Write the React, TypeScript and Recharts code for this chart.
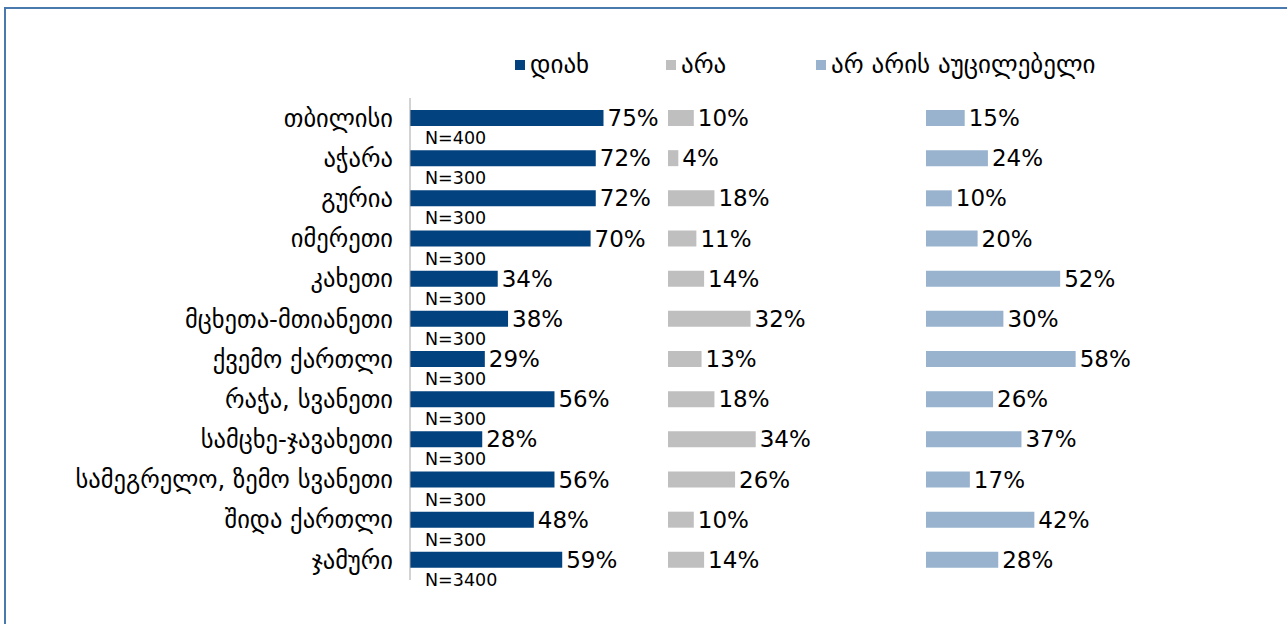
import React from 'react';
import { BarChart, Bar, XAxis, YAxis, LabelList } from 'recharts';

const regions = [
    'თბილისი',
    'აჭარა',
    'გურია',
    'იმერეთი',
    'კახეთი',
    'მცხეთა-მთიანეთი',
    'ქვემო ქართლი',
    'რაჭა, სვანეთი',
    'სამცხე-ჯავახეთი',
    'სამეგრელო, ზემო სვანეთი',
    'შიდა ქართლი',
    'ჯამური'
];
const yesValues = [75, 72, 72, 70, 34, 38, 29, 56, 28, 56, 48, 59];
const noValues = [10, 4, 18, 11, 14, 32, 13, 18, 34, 26, 10, 14];
const notNeededValues = [15, 24, 10, 20, 52, 30, 58, 26, 37, 17, 42, 28];
const sampleSizes = [400, 300, 300, 300, 300, 300, 300, 300, 300, 300, 300, 3400];

const data = regions.map((region, i) => ({
    region,
    yes: yesValues[i],
    no: noValues[i],
    notNeeded: notNeededValues[i],
    n: sampleSizes[i]
}));

const FONT = '"DejaVu Sans", sans-serif';
const DARK_BLUE = '#02427F';
const GRAY = '#BFBFBF';
const LIGHT_BLUE = '#99B3CF';

const legendItems = [
    { label: 'დიახ', color: DARK_BLUE, width: 151 },
    { label: 'არა', color: GRAY, width: 150 },
    { label: 'არ არის აუცილებელი', color: LIGHT_BLUE, width: 330 }
];

const renderSampleSize = (props: any) => {
    const { x, y, height, value } = props;
    return (
        <text
            x={Number(x) + 15}
            y={Number(y) + Number(height) + 12}
            dominantBaseline="central"
            fontFamily={FONT}
            fontSize={17.5}
            fill="#000"
        >
            {`N=${value}`}
        </text>
    );
};

const valueLabel = {
    position: 'right' as const,
    offset: 4,
    fill: '#000',
    fontSize: 23,
    fontFamily: FONT,
    formatter: (v: any) => `${v}%`
};

export default function App() {
    return (
        <div style={{ position: 'absolute', top: 0, left: 0, width: 1287, height: 624, background: '#fff', overflow: 'hidden' }}>
            <div
                style={{
                    position: 'absolute',
                    top: 7,
                    left: 4,
                    width: 1400,
                    height: 700,
                    borderTop: '2px solid #4A79AF',
                    borderLeft: '2px solid #4A79AF'
                }}
            />
            <div
                style={{
                    position: 'absolute',
                    top: 51,
                    left: 515,
                    display: 'flex',
                    fontFamily: FONT,
                    fontSize: 25,
                    color: '#000'
                }}
            >
                {legendItems.map((item) => (
                    <div key={item.label} style={{ width: item.width, display: 'flex', alignItems: 'center' }}>
                        <span style={{ width: 10, height: 10, background: item.color, marginRight: 5, display: 'inline-block' }} />
                        <span style={{ lineHeight: '28px' }}>{item.label}</span>
                    </div>
                ))}
            </div>
            <div style={{ position: 'absolute', top: 0, left: 0 }}>
                <BarChart
                    width={1287}
                    height={624}
                    data={data}
                    layout="vertical"
                    margin={{ top: 98, right: 103, bottom: 44, left: 0 }}
                >
                    <XAxis xAxisId="yes" type="number" domain={[0, 300]} hide />
                    <XAxis xAxisId="no" type="number" domain={[-100, 200]} hide />
                    <XAxis xAxisId="nn" type="number" domain={[-200, 100]} hide />
                    <YAxis
                        yAxisId="yes"
                        type="category"
                        dataKey="region"
                        width={410}
                        axisLine={{ stroke: '#A6A6A6' }}
                        tickLine={false}
                        tickSize={6}
                        tickMargin={11}
                        tick={{ fill: '#000', fontSize: 24.5, fontFamily: FONT }}
                        interval={0}
                    />
                    <YAxis yAxisId="no" type="category" dataKey="region" width={0} hide />
                    <YAxis yAxisId="nn" type="category" dataKey="region" width={0} hide />
                    <Bar dataKey="yes" xAxisId="yes" yAxisId="yes" fill={DARK_BLUE} barSize={16} isAnimationActive={false}>
                        <LabelList dataKey="yes" {...valueLabel} />
                        <LabelList dataKey="n" content={renderSampleSize} />
                    </Bar>
                    <Bar dataKey="no" xAxisId="no" yAxisId="no" fill={GRAY} barSize={16} isAnimationActive={false}>
                        <LabelList dataKey="no" {...valueLabel} />
                    </Bar>
                    <Bar dataKey="notNeeded" xAxisId="nn" yAxisId="nn" fill={LIGHT_BLUE} barSize={16} isAnimationActive={false}>
                        <LabelList dataKey="notNeeded" {...valueLabel} />
                    </Bar>
                </BarChart>
            </div>
        </div>
    );
}
